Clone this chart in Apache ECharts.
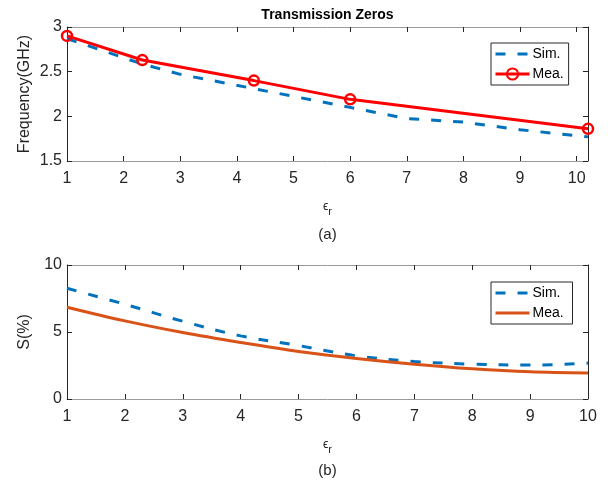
<!DOCTYPE html>
<html>
<head>
<meta charset="utf-8">
<script src="https://cdn.jsdelivr.net/npm/echarts@6/dist/echarts.min.js"></script>
<style>
html,body{margin:0;padding:0;background:#fff;}
#chart{width:608px;height:482px;}
</style>
</head>
<body>
<div id="chart"></div>
<script>
// ---- Data (a): transmission zero frequency vs eps_r ----
const epsSimA = [1, 2.33, 3, 4.3, 6, 7, 8, 9, 10.2];
const freqSimA = [2.87, 2.585, 2.47, 2.31, 2.10, 1.975, 1.935, 1.85, 1.77];
const epsMeaA = [1, 2.33, 4.3, 6, 10.2];
const freqMeaA = [2.90, 2.63, 2.40, 2.19, 1.86];

// ---- Data (b): S(%) vs eps_r ----
const epsB = [1, 2, 3, 4, 5, 6, 7, 8, 9, 10];
const sSimB = [8.26, 7.07, 5.80, 4.71, 3.99, 3.22, 2.80, 2.60, 2.53, 2.68];
const sMeaB = [6.85, 5.83, 4.96, 4.22, 3.55, 3.03, 2.60, 2.26, 2.03, 1.94];

// ---- Labels ----
const titleText = 'Transmission Zeros';
const yLabelA = 'Frequency(GHz)';
const yLabelB = 'S(%)';
const subA = '(a)';
const subB = '(b)';
const legendNames = ['Sim.', 'Mea.'];

const pair = (xs, ys) => xs.map((x, i) => [x, ys[i]]);

const FONT = '"Liberation Sans", Arial, sans-serif';
const AX = '#262626';
const HLINE = '#9a9a9a';
const BLUE = '#0072BD';
const RED = '#FF0000';
const ORANGE = '#D95319';

function xAxes(gi, max) {
  const common = {
    type: 'value', gridIndex: gi, min: 1, max: max, interval: 1,
    splitLine: {show: false},
    axisTick: {show: true, inside: true, length: 5, lineStyle: {color: AX}},
    axisLine: {show: true, onZero: false, lineStyle: {color: HLINE, width: 1}}
  };
  return [
    Object.assign({}, common, {
      position: 'bottom',
      name: '{e|ϵ}{r|r}',
      nameLocation: 'middle',
      nameGap: 35,
      nameMoveOverlap: false,
      nameTextStyle: {
        rich: {
          e: {fontFamily: FONT, fontSize: 12, color: AX},
          r: {fontFamily: FONT, fontSize: 11, color: AX, padding: [10, 0, 0, 0]}
        }
      },
      axisLabel: {
        margin: 10, color: AX, fontSize: 16, fontFamily: FONT,
        formatter: v => (Math.abs(v - Math.round(v)) < 1e-9 ? String(Math.round(v)) : '')
      }
    }),
    Object.assign({}, common, {position: 'top', axisLabel: {show: false}})
  ];
}

function yAxes(gi, min, max, interval, name) {
  const common = {
    type: 'value', gridIndex: gi, min: min, max: max, interval: interval,
    splitLine: {show: false},
    axisTick: {show: true, inside: true, length: 5, lineStyle: {color: AX}},
    axisLine: {show: true, onZero: false, lineStyle: {color: AX, width: 1}}
  };
  return [
    Object.assign({}, common, {
      position: 'left',
      name: name, nameLocation: 'middle', nameGap: 34, nameMoveOverlap: false,
      nameTextStyle: {color: AX, fontSize: 16, fontFamily: FONT},
      axisLabel: {margin: 5, color: AX, fontSize: 16, fontFamily: FONT}
    }),
    Object.assign({}, common, {position: 'right', axisLabel: {show: false}})
  ];
}

const chart = echarts.init(document.getElementById('chart'), null, {renderer: 'canvas'});

const legendCommon = {
  orient: 'vertical',
  left: 491,
  itemWidth: 34,
  itemHeight: 14,
  itemGap: 6,
  padding: [4, 5, 4, 3],
  borderColor: AX,
  borderWidth: 1,
  backgroundColor: '#fff',
  selectedMode: false,
  lineStyle: {width: 'inherit'},
  textStyle: {color: '#000', fontSize: 14, fontFamily: FONT, padding: [0, 0, 0, -2]}
};
const hideSym = {color: 'rgba(0,0,0,0)', borderWidth: 0};

const option = {
  animation: false,
  backgroundColor: '#fff',
  grid: [
    {left: 67, right: 20, top: 27, height: 134, containLabel: false},
    {left: 67, right: 20, top: 265, height: 134, containLabel: false}
  ],
  xAxis: [].concat(xAxes(0, 10.2), xAxes(1, 10)),
  yAxis: [].concat(yAxes(0, 1.5, 3, 0.5, yLabelA), yAxes(1, 0, 10, 5, yLabelB)),
  legend: [
    Object.assign({}, legendCommon, {top: 43, data: [
      {name: legendNames[0], itemStyle: hideSym},
      {name: legendNames[1]}
    ]}),
    Object.assign({}, legendCommon, {top: 282, data: [
      {name: legendNames[0] + ' ', itemStyle: hideSym},
      {name: legendNames[1] + ' ', itemStyle: hideSym}
    ]})
  ],
  graphic: [
    {type: 'text', style: {text: titleText, x: 327.5, y: 15, align: 'center', verticalAlign: 'middle', font: 'bold 14px ' + FONT, fill: '#000'}},
    {type: 'text', style: {text: subA, x: 327.5, y: 235, align: 'center', verticalAlign: 'middle', font: '15px ' + FONT, fill: AX}},
    {type: 'text', style: {text: subB, x: 327.5, y: 471, align: 'center', verticalAlign: 'middle', font: '15px ' + FONT, fill: AX}}
  ],
  series: [
    {
      name: 'Sim.', type: 'line', xAxisIndex: 0, yAxisIndex: 0,
      data: pair(epsSimA, freqSimA), symbol: 'none', z: 2,
      lineStyle: {color: BLUE, width: 3, type: [10, 12], cap: 'butt'},
      itemStyle: {color: BLUE}
    },
    {
      name: 'Mea.', type: 'line', xAxisIndex: 0, yAxisIndex: 0,
      data: pair(epsMeaA, freqMeaA), symbol: 'circle', symbolSize: 10, z: 3,
      lineStyle: {color: RED, width: 3},
      itemStyle: {color: 'rgba(255,255,255,0)', borderColor: RED, borderWidth: 2.5}
    },
    {
      name: 'Sim. ', type: 'line', xAxisIndex: 2, yAxisIndex: 2,
      data: pair(epsB, sSimB), symbol: 'none', smooth: 0.35, z: 2,
      lineStyle: {color: BLUE, width: 3, type: [10, 12], cap: 'butt'},
      itemStyle: {color: BLUE}
    },
    {
      name: 'Mea. ', type: 'line', xAxisIndex: 2, yAxisIndex: 2,
      data: pair(epsB, sMeaB), symbol: 'none', smooth: 0.35, z: 3,
      lineStyle: {color: ORANGE, width: 3},
      itemStyle: {color: ORANGE}
    }
  ]
};
chart.setOption(option);
</script>
</body>
</html>
